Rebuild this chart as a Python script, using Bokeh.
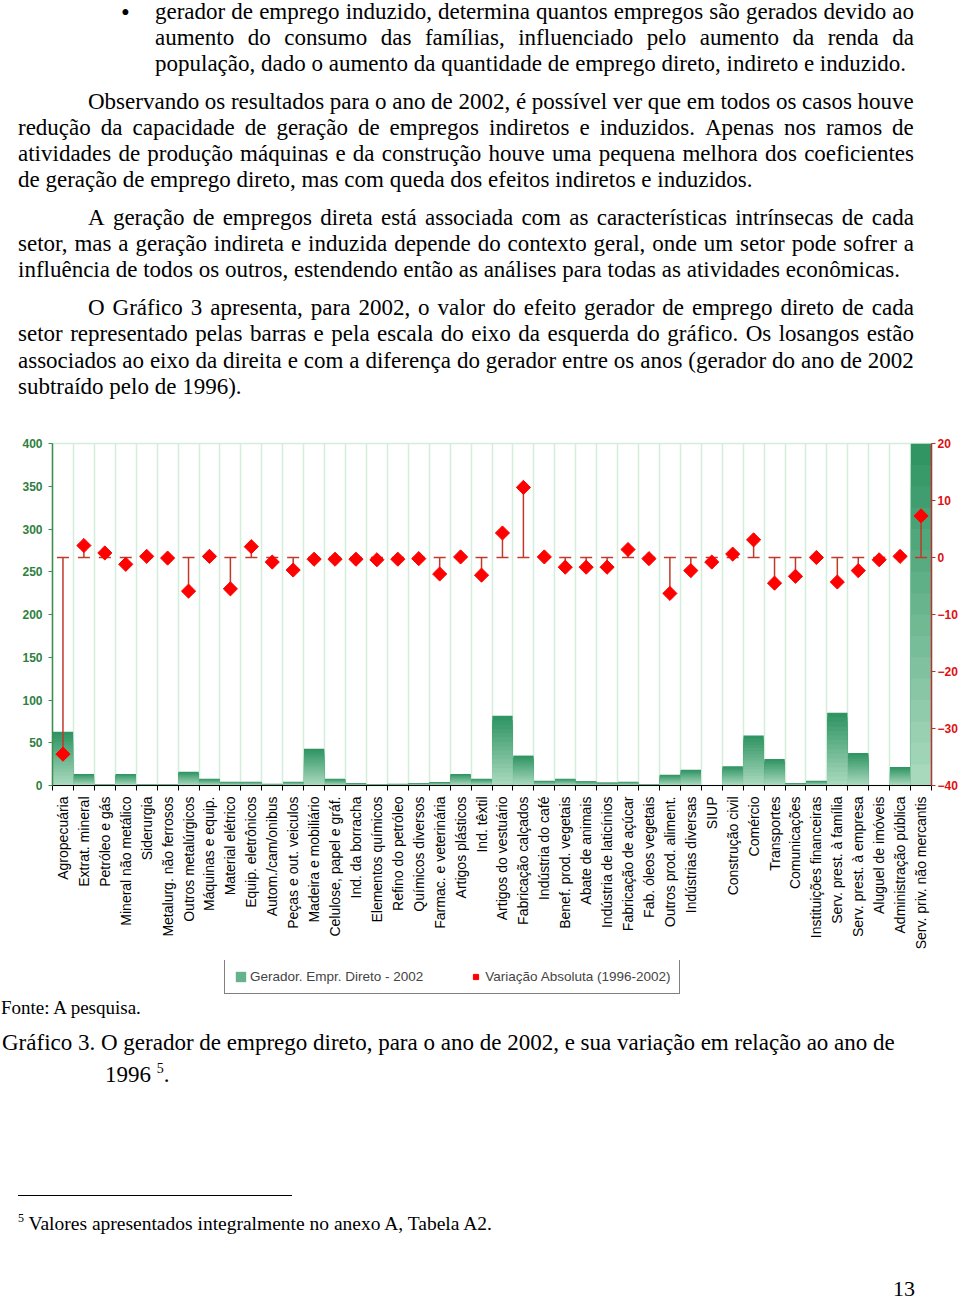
import math
from bokeh.plotting import figure
from bokeh.models import Range1d, LinearAxis, FixedTicker, Legend, LegendItem, Div
from bokeh.layouts import column
from bokeh.embed import file_html
from bokeh.resources import INLINE

# ---------------- data ----------------
categories = [
    "Agropecuária", "Extrat. mineral", "Petróleo e gás", "Mineral não metálico",
    "Siderurgia", "Metalurg. não ferrosos", "Outros metalúrgicos", "Máquinas e equip.",
    "Material elétrico", "Equip. eletrônicos", "Autom./cam/onibus", "Peças e out. veiculos",
    "Madeira e mobiliário", "Celulose, papel e gráf.", "Ind. da borracha", "Elementos químicos",
    "Refino do petróleo", "Químicos diversos", "Farmac. e veterinária", "Artigos plásticos",
    "Ind. têxtil", "Artigos do vestuário", "Fabricação calçados", "Indústria do café",
    "Benef. prod. vegetais", "Abate de animais", "Indústria de laticínios", "Fabricação de açúcar",
    "Fab. óleos vegetais", "Outros prod. aliment.", "Indústrias diversas", "SIUP",
    "Construção civil", "Comércio", "Transportes", "Comunicações",
    "Instituições financeiras", "Serv. prest. à família", "Serv. prest. à empresa",
    "Aluguel de imóveis", "Administração pública", "Serv. priv. não mercantis",
]
gerador_2002 = [
    63, 13.5, 1, 13.5, 1, 1, 16, 8, 4.5, 4.5, 2, 4.5, 43, 8, 2.5, 1, 2, 3, 4, 13.5, 8,
    81.5, 35, 5.5, 8, 5, 3.5, 4.5, 1, 12.5, 18.5, 0.5, 22.5, 58.5, 31, 3, 5.5, 85, 38,
    0.5, 21.5, 400,
]
variacao_abs = [
    -34.5, 2.1, 0.8, -1.2, 0.2, -0.1, -5.9, 0.2, -5.5, 1.9, -0.8, -2.2, -0.3, -0.3,
    -0.3, -0.4, -0.3, -0.2, -2.9, 0.1, -3.1, 4.3, 12.3, 0.1, -1.7, -1.7, -1.7, 1.4,
    -0.2, -6.3, -2.3, -0.8, 0.6, 3.1, -4.5, -3.3, 0.0, -4.3, -2.3, -0.4, 0.2, 7.3,
]
left_ticks = [0, 50, 100, 150, 200, 250, 300, 350, 400]
right_ticks = [-40, -30, -20, -10, 0, 10, 20]
legend_labels = ["Gerador. Empr. Direto - 2002", "Variação Absoluta (1996-2002)"]

n = len(categories)
centers = [i + 0.5 for i in range(n)]
bounds = list(range(n + 1))
zeros = [0] * n

BAR_DARK = (44, 146, 96)
BAR_LIGHT = (172, 219, 192)
STEM = "#c0392b"
DIAMOND = "#ff0000"


def shade(t):
    rgb = tuple(int(round(BAR_LIGHT[k] + (BAR_DARK[k] - BAR_LIGHT[k]) * t)) for k in range(3))
    return "#%02x%02x%02x" % rgb


# ---------------- chart ----------------
p = figure(width=960, height=527,
           x_range=Range1d(0, n), y_range=Range1d(left_ticks[0], left_ticks[-1]),
           output_backend="svg", toolbar_location=None,
           min_border_left=52, min_border_top=10, min_border_right=28, min_border_bottom=175,
           background_fill_color="white", border_fill_color="white",
           outline_line_color="#d3efda", outline_line_width=1.5)
p.extra_y_ranges = {"var": Range1d(right_ticks[0], right_ticks[-1])}

p.ygrid.visible = False
p.xgrid.ticker = FixedTicker(ticks=bounds)
p.xgrid.grid_line_color = "#d3efda"
p.xgrid.grid_line_width = 1.5

# bars with vertical gradient (dark top -> light bottom)
NS = 16
for j in reversed(range(NS)):
    tops = [v * (j + 1) / NS for v in gerador_2002]
    p.vbar(x=centers, width=0.97, bottom=zeros, top=tops,
           fill_color=shade((j + 0.5) / NS), line_color=None)

# error-bar stems and caps at zero
p.segment(x0=centers, y0=zeros, x1=centers, y1=variacao_abs, y_range_name="var",
          line_color=STEM, line_width=1.5)
p.scatter(x=centers, y=zeros, marker="dash", size=12, y_range_name="var",
          line_color=STEM, line_width=1.5)
p.scatter(x=centers, y=variacao_abs, marker="square", angle=math.pi / 4, size=10,
          y_range_name="var", fill_color=DIAMOND, line_color=DIAMOND)

# x axis
xa = p.xaxis[0]
xa.ticker = FixedTicker(ticks=centers, minor_ticks=bounds)
xa.major_label_overrides = {c: name for c, name in zip(centers, categories)}
xa.major_label_orientation = math.pi / 2
xa.major_tick_line_color = None
xa.major_tick_out = 5
xa.minor_tick_line_color = "black"
xa.minor_tick_out = 5
xa.minor_tick_in = 0
xa.axis_line_color = "black"
xa.axis_line_width = 1.2
xa.major_label_standoff = 6
xa.major_label_text_font = "Liberation Sans"
xa.major_label_text_font_size = "14px"
xa.major_label_text_color = "black"

# left axis
ya = p.yaxis[0]
ya.ticker = FixedTicker(ticks=left_ticks)
ya.axis_line_color = "#3d8f4f"
ya.axis_line_width = 1.5
ya.major_tick_line_color = "#3d8f4f"
ya.major_tick_out = 4
ya.major_tick_in = 0
ya.minor_tick_line_color = None
ya.major_label_standoff = 6
ya.major_label_text_font = "Liberation Sans"
ya.major_label_text_font_style = "bold"
ya.major_label_text_font_size = "12px"
ya.major_label_text_color = "#2f7f3f"

# right axis
ra = LinearAxis(y_range_name="var", ticker=FixedTicker(ticks=right_ticks))
ra.axis_line_color = "#b83232"
ra.axis_line_width = 1.5
ra.major_tick_line_color = "#b83232"
ra.major_tick_out = 4
ra.major_tick_in = 0
ra.minor_tick_line_color = None
ra.major_label_standoff = 2
ra.major_label_text_font = "Liberation Sans"
ra.major_label_text_font_style = "bold"
ra.major_label_text_font_size = "12px"
ra.major_label_text_color = "#dd1111"
p.add_layout(ra, "right")

# ---------------- legend strip (own small figure, proxies lie outside its ranges) ----------------
lf = figure(width=960, height=40, x_range=Range1d(-100, -99), y_range=Range1d(1000, 1001),
            output_backend="svg", toolbar_location=None, min_border=0,
            background_fill_color="white", border_fill_color="white", outline_line_color=None)
lf.axis.visible = False
lf.grid.visible = False
lb = lf.vbar(x=centers, width=0.97, bottom=zeros, top=gerador_2002,
             fill_color=shade(0.55), line_color=None)
ld = lf.scatter(x=centers, y=variacao_abs, marker="square", angle=math.pi / 4, size=10,
                fill_color=DIAMOND, line_color=DIAMOND)
legend = Legend(items=[LegendItem(label=legend_labels[0], renderers=[lb]),
                       LegendItem(label=legend_labels[1], renderers=[ld])],
                orientation="horizontal", location=(172, 6),
                border_line_color="black", border_line_width=1.5,
                background_fill_color="white", background_fill_alpha=1.0,
                label_text_font="Liberation Sans", label_text_font_size="13.5px",
                glyph_width=13, glyph_height=13, spacing=46, padding=9,
                label_standoff=3, margin=0)
lf.add_layout(legend)

# ---------------- page text ----------------
SERIF = "font-family:'Liberation Serif','Times New Roman',serif;color:#000;"


def jline(text, left, top, width, size=23, lh=26):
    words = "".join(f"<span style='white-space:nowrap'>{w}</span>" for w in text.split(" "))
    return (f"<div style=\"position:absolute;left:{left}px;top:{top}px;width:{width}px;"
            f"height:{lh}px;line-height:{lh}px;font-size:{size}px;display:flex;"
            f"justify-content:space-between;{SERIF}\">{words}</div>")


def pline(html, left, top, size=23, lh=26):
    return (f"<div style=\"position:absolute;left:{left}px;top:{top}px;white-space:nowrap;"
            f"line-height:{lh}px;font-size:{size}px;{SERIF}\">{html}</div>")


top_html = "<div style='position:relative;width:960px;height:433px;'>"
top_html += pline("&#8226;", 121, 1, size=25, lh=24)
top_html += jline("gerador de emprego induzido, determina quantos empregos são gerados devido ao", 155, 0, 759, lh=24)
top_html += jline("aumento do consumo das famílias, influenciado pelo aumento da renda da", 155, 25, 759)
top_html += pline("população, dado o aumento da quantidade de emprego direto, indireto e induzido.", 155, 51)

top_html += jline("Observando os resultados para o ano de 2002, é possível ver que em todos os casos houve", 88, 89, 826)
top_html += jline("redução da capacidade de geração de empregos indiretos e induzidos. Apenas nos ramos de", 18, 115, 896)
top_html += jline("atividades de produção máquinas e da construção houve uma pequena melhora dos coeficientes", 18, 141, 896)
top_html += pline("de geração de emprego direto, mas com queda dos efeitos indiretos e induzidos.", 18, 167)

top_html += jline("A geração de empregos direta está associada com as características intrínsecas de cada", 88, 205, 826)
top_html += jline("setor, mas a geração indireta e induzida depende do contexto geral, onde um setor pode sofrer a", 18, 231, 896)
top_html += pline("influência de todos os outros, estendendo então as análises para todas as atividades econômicas.", 18, 257)

top_html += jline("O Gráfico 3 apresenta, para 2002, o valor do efeito gerador de emprego direto de cada", 88, 295, 826)
top_html += jline("setor representado pelas barras e pela escala do eixo da esquerda do gráfico. Os losangos estão", 18, 321, 896)
top_html += jline("associados ao eixo da direita e com a diferença do gerador entre os anos (gerador do ano de 2002", 18, 348, 896)
top_html += pline("subtraído pelo de 1996).", 18, 374)
top_html += "</div>"

bot_html = "<div style='position:relative;width:960px;height:300px;'>"
bot_html += pline("Fonte: A pesquisa.", 1, -3, size=19, lh=22)
bot_html += pline("Gráfico 3. O gerador de emprego direto, para o ano de 2002, e sua variação em relação ao ano de", 2, 30)
bot_html += pline("1996 <sup style='font-size:14px'>5</sup>.", 105, 56)
bot_html += "<div style='position:absolute;left:18px;top:195px;width:274px;height:1px;background:#000;'></div>"
bot_html += pline("<sup style='font-size:12px'>5</sup> Valores apresentados integralmente no anexo A, Tabela A2.", 18, 207, size=19.5, lh=22)
bot_html += pline("13", 893, 281, size=22, lh=16)
bot_html += "</div>"

top_div = Div(text=top_html, width=960, height=433, margin=(0, 0, 0, 0))
bot_div = Div(text=bot_html, width=960, height=300, margin=(0, 0, 0, 0))

layout = column(top_div, p, lf, bot_div, spacing=0, margin=(0, 0, 0, 0))

open("out.html", "w").write(file_html(layout, INLINE))
